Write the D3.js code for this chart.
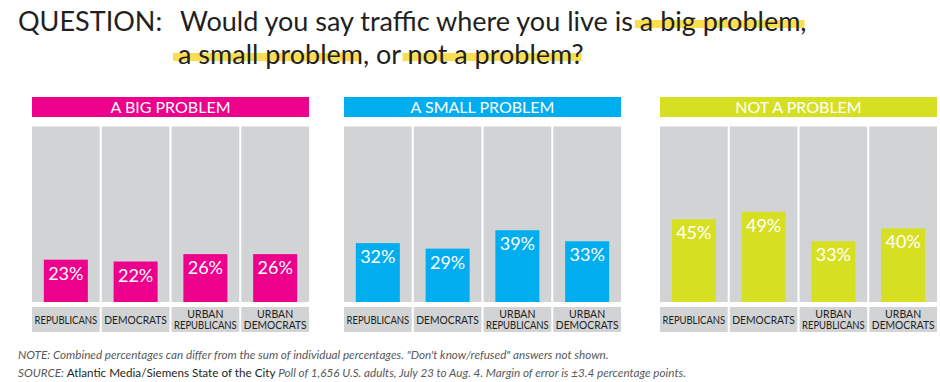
<!DOCTYPE html>
<html>
<head>
<meta charset="utf-8">
<script src="https://cdn.jsdelivr.net/npm/d3@7/dist/d3.min.js"></script>
<style>
  html, body { margin: 0; padding: 0; background: #fff; }
  svg { display: block; }
  text { font-family: Lato, "Open Sans", sans-serif; }
</style>
</head>
<body>
<svg id="chart" width="940" height="382"></svg>
<script>
// ---- data ----
const categories = ["REPUBLICANS", "DEMOCRATS", "URBAN REPUBLICANS", "URBAN DEMOCRATS"];
const categoryLines = [["REPUBLICANS"], ["DEMOCRATS"], ["URBAN", "REPUBLICANS"], ["URBAN", "DEMOCRATS"]];
const panelTitles = ["A BIG PROBLEM", "A SMALL PROBLEM", "NOT A PROBLEM"];
const panelColors = ["#ec008c", "#00aeef", "#d7df23"];
const bigProblem = [23, 22, 26, 26];
const smallProblem = [32, 29, 39, 33];
const notProblem = [45, 49, 33, 40];
const seriesValues = [bigProblem, smallProblem, notProblem];

const svg = d3.select("#chart");

// ---- title with highlights ----
const hlColor = "#f9da3f";
const titleSize = 27;
const hlLayer = svg.append("g");
const title = svg.append("g").attr("fill", "#231f20").style("font-size", titleSize + "px");

function line(y, parts, x0) {
  const t = title.append("text").attr("x", x0).attr("y", y);
  const spans = parts.map(p => t.append("tspan").text(p.t));
  return {t, spans, parts, y};
}
title.append("text").attr("x", 18).attr("y", 31).text("QUESTION:");
const l1 = line(31, [{t: "Would you say traffic where you live is "}, {t: "a big problem,", hl: true}], 180);
const l2 = line(64, [{t: "a small problem", hl: true}, {t: ", or "}, {t: "not a problem?", hl: true}], 178);
[l1, l2].forEach(L => {
  L.spans.forEach((s, i) => {
    if (!L.parts[i].hl) return;
    const bb = s.node().getBBox();
    hlLayer.append("rect")
      .attr("x", bb.x - 5).attr("width", bb.width + 3)
      .attr("y", L.y - 11).attr("height", 8)
      .attr("fill", hlColor).attr("opacity", 0.9);
  });
});

// ---- panels ----
const panelX = [32, 344, 660];
const panelW = 277;
const headerY = 97, headerH = 20;
const plotTop = 126.5, plotBottom = 302;
const labelTop = 307, labelBottom = 332;

const y = d3.scaleLinear().domain([0, 100]).range([plotBottom, plotBottom - 184]);

panelX.forEach((px, pi) => {
  const g = svg.append("g");
  const x = d3.scaleBand().domain(categories).range([px, px + panelW]).paddingInner(0.03).paddingOuter(0);

  g.append("rect").attr("x", px).attr("y", headerY).attr("width", panelW).attr("height", headerH)
    .attr("fill", panelColors[pi]);
  g.append("text").attr("x", px + panelW / 2).attr("y", headerY + 15.5)
    .attr("text-anchor", "middle").attr("fill", "#fff").style("font-size", "16px")
    .text(panelTitles[pi]);

  g.selectAll(".col").data(categories).join("rect")
    .attr("x", d => x(d)).attr("width", x.bandwidth())
    .attr("y", plotTop).attr("height", plotBottom - plotTop)
    .attr("fill", "#d1d3d4");

  g.selectAll(".lab").data(categories).join("rect")
    .attr("x", d => x(d)).attr("width", x.bandwidth())
    .attr("y", labelTop).attr("height", labelBottom - labelTop)
    .attr("fill", "#d1d3d4");

  const barW = 44;
  const vals = seriesValues[pi];
  g.selectAll(".bar").data(categories).join("rect")
    .attr("x", d => x(d) + x.bandwidth() / 2 - barW / 2).attr("width", barW)
    .attr("y", (d, i) => y(vals[i])).attr("height", (d, i) => plotBottom - y(vals[i]))
    .attr("fill", panelColors[pi]);

  g.selectAll(".val").data(categories).join("text")
    .attr("x", d => x(d) + x.bandwidth() / 2)
    .attr("y", (d, i) => y(vals[i]) + 20)
    .attr("text-anchor", "middle").attr("fill", "#fff").style("font-size", "18px")
    .text((d, i) => vals[i] + "%");

  categories.forEach((c, ci) => {
    const lines = categoryLines[ci];
    const t = g.append("text").attr("text-anchor", "middle").attr("fill", "#231f20")
      .style("font-size", "10.5px");
    lines.forEach((ln, li) => {
      const by = lines.length === 1 ? 323.5 : 318 + li * 10.5;
      const ts = t.append("tspan").attr("x", x(c) + x.bandwidth() / 2).attr("y", by).text(ln);
      const w = ts.node().getComputedTextLength();
      const maxW = x.bandwidth() - 5;
      if (w > maxW) ts.attr("textLength", maxW).attr("lengthAdjust", "spacingAndGlyphs");
    });
  });
});

// ---- footer ----
const foot = svg.append("g").style("font-size", "11.7px").attr("fill", "#58595b");
foot.append("text").attr("x", 18).attr("y", 359).style("font-style", "italic")
  .text("NOTE: Combined percentages can differ from the sum of individual percentages. \"Don't know/refused\" answers not shown.");
const src = foot.append("text").attr("x", 18).attr("y", 377);
src.append("tspan").style("font-style", "italic").text("SOURCE: ");
src.append("tspan").attr("fill", "#231f20").text("Atlantic Media/Siemens State of the City");
src.append("tspan").style("font-style", "italic").text(" Poll of 1,656 U.S. adults, July 23 to Aug. 4. Margin of error is \u00b13.4 percentage points.");
</script>
</body>
</html>
